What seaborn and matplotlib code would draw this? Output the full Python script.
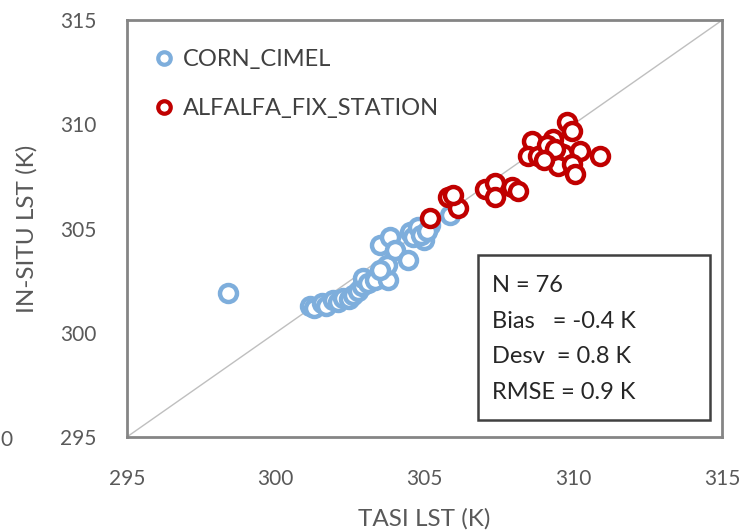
import pandas as pd
import matplotlib
matplotlib.use("Agg")
import matplotlib.pyplot as plt
from matplotlib.lines import Line2D
from matplotlib.patches import Rectangle
import seaborn as sns

# Datos (K)
corn_tasi = [298.4, 301.15, 301.3, 301.55, 301.7, 301.92, 302.1, 302.26, 302.45, 302.6,
             302.75, 302.9, 302.93, 303.1, 303.34, 303.5, 303.77, 303.74, 303.5, 303.84,
             304.0, 304.45, 304.5, 304.6, 304.78, 305.0, 305.18, 304.9, 305.1, 305.86]
corn_insitu = [301.9, 301.28, 301.2, 301.42, 301.3, 301.57, 301.5, 301.67, 301.6, 301.81,
               302.0, 302.25, 302.64, 302.4, 302.54, 304.2, 302.54, 303.27, 303.0, 304.59,
               303.95, 303.5, 304.83, 304.6, 305.07, 304.44, 305.17, 304.7, 304.9, 305.66]

alfalfa_tasi = [305.18, 305.79, 306.13, 305.95, 307.03, 307.37, 307.37, 307.94, 308.15,
                308.61, 308.48, 308.8, 309.32, 309.79, 309.96, 309.66, 310.23, 309.49,
                309.96, 310.06, 310.9, 309.1, 309.4, 309.0]
alfalfa_insitu = [305.5, 306.5, 306.0, 306.6, 306.9, 307.2, 306.5, 307.0, 306.8,
                  309.2, 308.5, 308.5, 309.3, 310.1, 309.7, 308.6, 308.7, 308.0,
                  308.1, 307.6, 308.5, 309.0, 308.8, 308.3]

grupos = ["CORN_CIMEL", "ALFALFA_FIX_STATION"]
colores = ["#7EAEDC", "#C00000"]
stats = ["N = 76", "Bias   = -0.4 K", "Desv  = 0.8 K", "RMSE = 0.9 K"]
ticks = [295, 300, 305, 310, 315]

df = pd.DataFrame({
    "tasi": corn_tasi + alfalfa_tasi,
    "insitu": corn_insitu + alfalfa_insitu,
    "grupo": [grupos[0]] * len(corn_tasi) + [grupos[1]] * len(alfalfa_tasi),
})

sns.set_style("white")
plt.rcParams["font.family"] = ["Lato", "DejaVu Sans"]
gris = "#595959"

fig = plt.figure(figsize=(7.46, 5.31), dpi=100)
ax = fig.add_axes([0.170, 0.177, 0.798, 0.785])

# línea 1:1
ax.plot([295, 315], [295, 315], color="#BFBFBF", lw=1, zorder=1)

# círculos huecos, un grupo cada vez
for g, c in zip(grupos, colores):
    sns.scatterplot(data=df[df["grupo"] == g], x="tasi", y="insitu", ax=ax,
                    s=150, facecolor="white", edgecolor=c, linewidth=3.2, zorder=3)

ax.set_xlim(295, 315)
ax.set_ylim(295, 315)
ax.set_xticks(ticks)
ax.set_yticks(ticks)
ax.tick_params(axis="x", labelsize=15, labelcolor=gris, length=0, pad=23)
ax.tick_params(axis="y", labelsize=15, labelcolor=gris, length=0, pad=22)
ax.set_xlabel("TASI LST (K)", fontsize=17.5, color=gris, labelpad=14)
ax.set_ylabel("IN-SITU LST (K)", fontsize=17.5, color=gris, labelpad=16)
for sp in ax.spines.values():
    sp.set_color("#858585")
    sp.set_linewidth(2)

# leyenda
handles = [Line2D([], [], ls="", marker="o", ms=9, mfc="white", mec=c, mew=3) for c in colores]
ax.legend(handles, grupos, loc="upper left", frameon=False, fontsize=17,
          labelspacing=1.19, handletextpad=0.3, handlelength=1.0,
          bbox_to_anchor=(0.0064, 0.981), labelcolor="#404040")

# caja de estadísticos
ax.add_patch(Rectangle((0.590, 0.041), 0.39, 0.396, transform=ax.transAxes,
                       fc="white", ec="#404040", lw=1.8, zorder=4))
ax.text(0.613, 0.388, "\n".join(stats), transform=ax.transAxes, fontsize=17,
        color="#262626", linespacing=1.85, va="top", ha="left", zorder=5)

# el gráfico original lleva un "0" suelto en el borde izquierdo
fig.text(0.0, 0.171, "0", fontsize=15, color=gris, ha="left", va="center")

fig.savefig("out.png", dpi=100)
